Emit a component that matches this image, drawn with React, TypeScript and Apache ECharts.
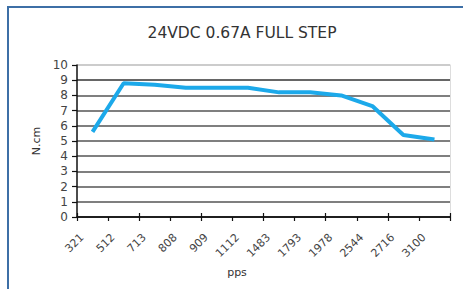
import React, { useEffect, useRef } from "react";
import * as echarts from "echarts";

const categories = ["321", "512", "713", "808", "909", "1112", "1483", "1793", "1978", "2544", "2716", "3100"];
const torque = [5.6, 8.8, 8.7, 8.5, 8.5, 8.5, 8.2, 8.2, 8.0, 7.3, 5.4, 5.1];
const titleText = "24VDC 0.67A FULL STEP";
const yName = "N.cm";
const xName = "pps";

export default function App() {
  const ref = useRef<HTMLDivElement>(null);
  useEffect(() => {
    if (!ref.current) return;
    const chart = echarts.init(ref.current, null, { renderer: "svg" });
    const font = "DejaVu Sans";
    chart.setOption({
      animation: false,
      backgroundColor: "#ffffff",
      title: {
        text: titleText,
        left: 237,
        textAlign: "center",
        top: 20,
        textStyle: { fontFamily: font, fontSize: 15.5, fontWeight: "normal", color: "#333" },
      },
      graphic: [
        {
          type: "rect",
          shape: { x: 8, y: 7, width: 480, height: 300 },
          style: { fill: "none", stroke: "#3d6fa6", lineWidth: 2 },
          silent: true,
        },
        {
          type: "text",
          x: 36,
          y: 141,
          rotation: Math.PI / 2,
          style: { text: yName, fontFamily: font, fontSize: 11, fill: "#333", align: "center", verticalAlign: "middle" },
        },
        {
          type: "text",
          x: 237,
          y: 272,
          style: { text: xName, fontFamily: font, fontSize: 11, fill: "#333", align: "center", verticalAlign: "middle" },
        },
      ],
      grid: { left: 77, right: 13, top: 65, bottom: 72, containLabel: false },
      xAxis: [
        {
          type: "category",
          data: categories,
          boundaryGap: true,
          axisLine: { show: true, lineStyle: { color: "#111", width: 1.5 } },
          axisTick: { show: true, length: 4, lineStyle: { color: "#111", width: 1.2 } },
          axisLabel: {
            rotate: 45,
            margin: 8,
            padding: [0, 15, 0, 0],
            fontFamily: font,
            fontSize: 11,
            color: "#444",
            interval: 0,
          },
          splitLine: { show: false },
        },
        {
          type: "category",
          data: categories,
          position: "bottom",
          boundaryGap: true,
          axisLine: { show: false },
          axisTick: { show: true, inside: true, length: 4, lineStyle: { color: "#111", width: 1.2 } },
          axisLabel: { show: false },
          splitLine: { show: false },
        },
      ],
      yAxis: [
        {
          type: "value",
          min: 0,
          max: 10,
          interval: 1,
          axisLine: { show: true, lineStyle: { color: "#111", width: 1.5 } },
          axisTick: { show: true, length: 5, lineStyle: { color: "#111", width: 1.2 } },
          axisLabel: { margin: 9, fontFamily: font, fontSize: 12, color: "#444" },
          splitLine: {
            show: true,
            lineStyle: {
              color: ["#111", "#555", "#555", "#555", "#555", "#555", "#555", "#555", "#555", "#333", "#bbb"],
              width: 1.5,
            },
          },
        },
        {
          type: "value",
          position: "right",
          min: 0,
          max: 10,
          interval: 1,
          axisLine: { show: true, lineStyle: { color: "#ddd", width: 1 } },
          axisTick: { show: false },
          axisLabel: { show: false },
          splitLine: { show: false },
        },
      ],
      series: [
        {
          type: "line",
          data: torque,
          symbol: "none",
          lineStyle: { color: "#1ca9ea", width: 4 },
          z: 5,
        },
      ],
    });
    return () => chart.dispose();
  }, []);
  return <div ref={ref} style={{ position: "absolute", left: 0, top: 0, width: 463, height: 289 }} />;
}
